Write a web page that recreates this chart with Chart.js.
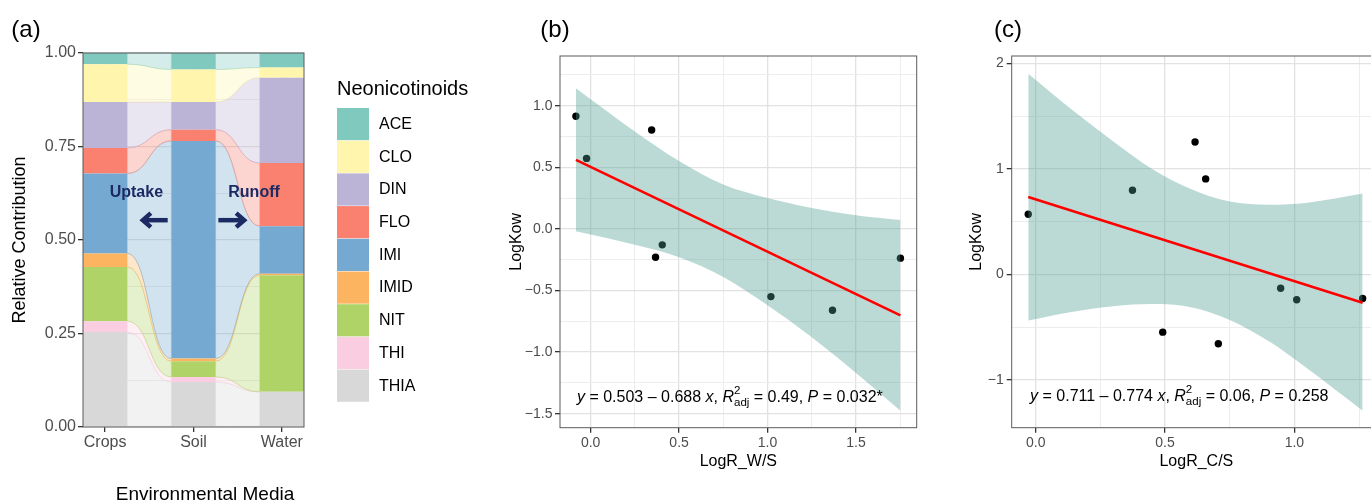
<!DOCTYPE html>
<html>
<head>
<meta charset="utf-8">
<title>Neonicotinoids</title>
<script src="https://cdn.jsdelivr.net/npm/chart.js@4.4.1/dist/chart.umd.min.js"></script>
<style>
  html, body { margin: 0; padding: 0; background: #fff; width: 1371px; height: 500px; overflow: hidden; }
  canvas { position: absolute; top: 0; }
</style>
</head>
<body>
<canvas id="shareChart" width="500" height="500" style="left:0"></canvas>
<canvas id="wsChart" width="450" height="500" style="left:500px"></canvas>
<canvas id="csChart" width="450" height="500" style="left:950px"></canvas>
<script>
const FONT = '"Liberation Sans", Arial, Helvetica, sans-serif';
Chart.defaults.font.family = FONT;
Chart.defaults.color = '#4D4D4D';

// (a) relative contribution per medium, listed top of stack first
const media = ['Crops', 'Soil', 'Water'];
const mediaPos = [1, 2, 3];
const compounds = ['ACE', 'CLO', 'DIN', 'FLO', 'IMI', 'IMID', 'NIT', 'THI', 'THIA'];
const compoundColors = ['#7FC9BE', '#FFF5AC', '#BCB4D6', '#FA8070', '#75A9D2', '#FDB461', '#B0D368', '#FBCDE1', '#D8D8D8'];
const cropsShare = [0.030, 0.101, 0.123, 0.068, 0.214, 0.036, 0.145, 0.029, 0.254];
const soilShare = [0.044, 0.087, 0.074, 0.030, 0.582, 0.007, 0.042, 0.014, 0.120];
const waterShare = [0.039, 0.027, 0.228, 0.169, 0.127, 0.004, 0.312, 0.000, 0.094];
const shareTicks = [0, 0.25, 0.5, 0.75, 1];
const shareMinor = [0.125, 0.375, 0.625, 0.875];

// (b) LogKow vs LogR_W/S
const wsX = [-0.083, -0.023, 0.345, 0.405, 0.367, 1.019, 1.367, 1.751];
const wsY = [0.914, 0.572, 0.802, -0.130, -0.230, -0.550, -0.661, -0.238];
const wsFitX = [-0.083, 1.751];
const wsFitY = [0.560, -0.702];
const wsBandX = [-0.083, 0.25, 0.5, 0.75, 1.0, 1.25, 1.5, 1.751];
const wsBandHi = [1.141, 0.79, 0.55, 0.36, 0.25, 0.17, 0.11, 0.071];
const wsBandLo = [-0.02, -0.13, -0.23, -0.39, -0.62, -0.88, -1.17, -1.476];
const wsTicksX = [0, 0.5, 1, 1.5];
const wsMinorX = [0.25, 0.75, 1.25, 1.75];
const wsTicksY = [-1.5, -1, -0.5, 0, 0.5, 1];
const wsMinorY = [-1.25, -0.75, -0.25, 0.25, 0.75, 1.25];

// (c) LogKow vs LogR_C/S
const csX = [-0.029, 0.374, 0.616, 0.657, 0.491, 0.706, 0.947, 1.009, 1.264];
const csY = [0.570, 0.797, 1.255, 0.905, -0.546, -0.656, -0.130, -0.240, -0.227];
const csFitX = [-0.029, 1.264];
const csFitY = [0.733, -0.267];
const csBandX = [-0.029, 0.15, 0.3, 0.45, 0.6, 0.75, 0.9, 1.05, 1.264];
const csBandHi = [1.90, 1.54, 1.26, 1.00, 0.81, 0.69, 0.66, 0.68, 0.766];
const csBandLo = [-0.435, -0.35, -0.30, -0.28, -0.31, -0.43, -0.63, -0.89, -1.29];
const csTicksX = [0, 0.5, 1];
const csMinorX = [0.25, 0.75, 1.25];
const csTicksY = [-1, 0, 1, 2];
const csMinorY = [-0.5, 0.5, 1.5];

const pts = (xs, ys) => xs.map((x, i) => ({ x, y: ys[i] }));
const minus = (s) => s.replace('-', '\u2212');

function fade(hex, a) {
  const n = parseInt(hex.slice(1), 16);
  return `rgba(${n >> 16}, ${(n >> 8) & 255}, ${n & 255}, ${a})`;
}

function gridAxis(major, minor, fmt, o) {
  const isMajor = (c) => c.tick && major.includes(c.tick.value);
  return {
    type: 'linear',
    min: o.min,
    max: o.max,
    offset: false,
    afterBuildTicks: (s) => {
      s.ticks = [...major, ...minor].sort((a, b) => a - b).map((value) => ({ value }));
    },
    afterFit: (s) => {
      if (o.width) s.width = o.width;
      if (o.height) s.height = o.height;
    },
    border: { display: false },
    grid: {
      offset: false,
      color: (c) => (isMajor(c) ? '#E2E2E2' : '#EDEDED'),
      lineWidth: (c) => (isMajor(c) ? 1.3 : 1),
      tickColor: (c) => (isMajor(c) ? '#333333' : 'rgba(0,0,0,0)'),
      tickLength: 5
    },
    ticks: {
      autoSkip: false,
      maxRotation: 0,
      padding: o.padding,
      color: '#4D4D4D',
      font: { size: o.fontSize || 14 },
      callback: (v) => (major.includes(v) ? fmt(v) : '')
    },
    title: o.title
      ? { display: true, text: o.title, color: '#000', font: { size: o.titleSize || 16 }, padding: o.titlePad }
      : { display: false }
  };
}

function drawRuns(ctx, x, y, runs, size) {
  let cx = x;
  let supW = 0;
  runs.forEach((r) => {
    const small = r.sup || r.sub;
    ctx.font = `${r.i ? 'italic ' : ''}${small ? size * 0.72 : size}px ${FONT}`;
    const dy = r.sup ? -size * 0.42 : r.sub ? size * 0.34 : 0;
    ctx.fillText(r.t, cx, y + dy);
    const w = ctx.measureText(r.t).width;
    if (r.sup) { supW = w; return; }
    cx += small ? Math.max(w, supW) : w;
    supW = 0;
  });
}

function arrow(ctx, from, to, yy) {
  const dir = Math.sign(to - from);
  ctx.lineWidth = 4.5;
  ctx.lineCap = 'butt';
  ctx.lineJoin = 'miter';
  ctx.beginPath();
  ctx.moveTo(from, yy);
  ctx.lineTo(to - dir * 2, yy);
  ctx.stroke();
  ctx.beginPath();
  ctx.moveTo(to - dir * 8, yy - 7);
  ctx.lineTo(to, yy);
  ctx.lineTo(to - dir * 8, yy + 7);
  ctx.stroke();
}

const panelFrame = {
  id: 'panelFrame',
  afterDatasetsDraw(chart) {
    const { ctx, chartArea: a } = chart;
    ctx.save();
    ctx.strokeStyle = '#5A5A5A';
    ctx.lineWidth = 1;
    ctx.strokeRect(a.left, a.top, a.right - a.left, a.bottom - a.top);
    ctx.restore();
  },
  afterDraw(chart, args, o) {
    const { ctx } = chart;
    ctx.save();
    ctx.fillStyle = '#000';
    ctx.font = `24px ${FONT}`;
    ctx.textAlign = 'center';
    ctx.textBaseline = 'middle';
    ctx.fillText(o.label, o.labelX, o.labelY);
    if (o.runs) {
      const { x, y } = chart.scales;
      ctx.textAlign = 'left';
      drawRuns(ctx, x.getPixelForValue(o.at[0]), y.getPixelForValue(o.at[1]), o.runs, 16);
    }
    ctx.restore();
  }
};

// ribbons between neighbouring bars, built from the bar elements' own pixels
const alluvialFlows = {
  id: 'alluvialFlows',
  beforeDatasetsDraw(chart) {
    const { ctx } = chart;
    ctx.save();
    chart.data.datasets.forEach((ds, i) => {
      const bars = chart.getDatasetMeta(i).data;
      for (let j = 0; j < bars.length - 1; j++) {
        const a = bars[j];
        const b = bars[j + 1];
        const x0 = a.x + a.width / 2;
        const x1 = b.x - b.width / 2;
        const xm = (x0 + x1) / 2;
        ctx.beginPath();
        ctx.moveTo(x0, a.y);
        ctx.bezierCurveTo(xm, a.y, xm, b.y, x1, b.y);
        ctx.lineTo(x1, b.base);
        ctx.bezierCurveTo(xm, b.base, xm, a.base, x0, a.base);
        ctx.closePath();
        ctx.fillStyle = fade(ds.backgroundColor, 0.33);
        ctx.fill();
        ctx.strokeStyle = fade(ds.backgroundColor, 0.55);
        ctx.lineWidth = 0.8;
        ctx.stroke();
      }
    });
    ctx.restore();
  }
};

const shareNotes = {
  id: 'shareNotes',
  afterDatasetsDraw(chart) {
    const { ctx, scales: { x, y } } = chart;
    ctx.save();
    ctx.fillStyle = '#1B2A63';
    ctx.strokeStyle = '#1B2A63';
    ctx.font = `bold 16px ${FONT}`;
    ctx.textAlign = 'center';
    ctx.textBaseline = 'middle';
    ctx.fillText('Uptake', x.getPixelForValue(1.354), y.getPixelForValue(0.626));
    ctx.fillText('Runoff', x.getPixelForValue(2.685), y.getPixelForValue(0.626));
    arrow(ctx, x.getPixelForValue(1.708), x.getPixelForValue(1.427), y.getPixelForValue(0.553));
    arrow(ctx, x.getPixelForValue(2.281), x.getPixelForValue(2.573), y.getPixelForValue(0.553));
    ctx.restore();
  },
  afterDraw(chart) {
    const { ctx } = chart;
    ctx.save();
    ctx.fillStyle = '#000';
    ctx.font = `19px ${FONT}`;
    ctx.textAlign = 'center';
    ctx.textBaseline = 'alphabetic';
    ctx.fillText('Environmental Media', 205, 500);
    // key
    ctx.textAlign = 'left';
    ctx.textBaseline = 'middle';
    ctx.font = `20px ${FONT}`;
    ctx.fillText('Neonicotinoids', 337, 89);
    ctx.font = `16px ${FONT}`;
    compounds.forEach((name, i) => {
      const top = 108 + i * 32.7;
      ctx.fillStyle = compoundColors[i];
      ctx.fillRect(337, top, 32, 32.2);
      ctx.fillStyle = '#000';
      ctx.fillText(name, 379, top + 16.5);
    });
    ctx.restore();
  }
};

function renderShareChart() {
  const shares = [cropsShare, soilShare, waterShare];
  const datasets = compounds.map((name, i) => ({
    label: name,
    data: mediaPos.map((x, j) => ({ x, y: shares[j][i] })),
    backgroundColor: compoundColors[i],
    borderWidth: 0,
    barPercentage: 0.5,
    categoryPercentage: 1
  })).reverse();

  return new Chart(document.getElementById('shareChart'), {
    type: 'bar',
    data: { datasets },
    options: {
      responsive: false,
      animation: false,
      events: [],
      layout: { padding: { left: 0, top: 53, right: 196, bottom: 33 } },
      scales: {
        x: {
          ...gridAxis(mediaPos, [], (v) => media[mediaPos.indexOf(v)], { min: 0.75, max: 3.25, height: 40, padding: 1, fontSize: 16 }),
          stacked: true
        },
        y: {
          ...gridAxis(shareTicks, shareMinor, (v) => v.toFixed(2), {
            min: 0, max: 1, width: 83, padding: 2, fontSize: 16,
            title: 'Relative Contribution', titleSize: 18, titlePad: { top: 9 }
          }),
          stacked: true
        }
      },
      plugins: {
        legend: { display: false },
        tooltip: { enabled: false },
        panelFrame: { label: '(a)', labelX: 26, labelY: 30 }
      }
    },
    plugins: [alluvialFlows, shareNotes, panelFrame]
  });
}

function renderRegressionChart(id, d) {
  return new Chart(document.getElementById(id), {
    type: 'scatter',
    data: {
      datasets: [
        { data: pts(d.x, d.y), backgroundColor: '#000', borderWidth: 0, pointRadius: 3.7, order: 3 },
        {
          data: pts(d.bandX, d.bandHi), showLine: true, fill: '+1',
          backgroundColor: 'rgba(80, 158, 145, 0.38)', borderColor: 'transparent', borderWidth: 0,
          pointRadius: 0, cubicInterpolationMode: 'monotone', order: 2
        },
        {
          data: pts(d.bandX, d.bandLo), showLine: true, fill: false,
          borderColor: 'transparent', borderWidth: 0,
          pointRadius: 0, cubicInterpolationMode: 'monotone', order: 2
        },
        { data: pts(d.fitX, d.fitY), showLine: true, borderColor: '#FF0000', borderWidth: 2.6, pointRadius: 0, order: 1 }
      ]
    },
    options: {
      responsive: false,
      animation: false,
      events: [],
      layout: { padding: d.padding },
      scales: {
        x: gridAxis(d.ticksX, d.minorX, (v) => minus(v.toFixed(1)), {
          min: d.xRange[0], max: d.xRange[1], height: 50, padding: 2, fontSize: 14,
          title: d.xTitle, titleSize: 16, titlePad: { bottom: 7 }
        }),
        y: gridAxis(d.ticksY, d.minorY, d.yFmt, {
          min: d.yRange[0], max: d.yRange[1], width: d.yWidth, padding: d.yPad, fontSize: 14,
          title: 'LogKow', titleSize: 16, titlePad: { top: d.yTitlePad }
        })
      },
      plugins: {
        legend: { display: false },
        tooltip: { enabled: false },
        panelFrame: { label: d.label, labelX: d.labelX, labelY: 30, runs: d.runs, at: d.at }
      }
    },
    plugins: [panelFrame]
  });
}

renderShareChart();

renderRegressionChart('wsChart', {
  x: wsX, y: wsY, fitX: wsFitX, fitY: wsFitY,
  bandX: wsBandX, bandHi: wsBandHi, bandLo: wsBandLo,
  ticksX: wsTicksX, minorX: wsMinorX, ticksY: wsTicksY, minorY: wsMinorY,
  xRange: [-0.173, 1.843], yRange: [-1.614, 1.403],
  yFmt: (v) => minus(v.toFixed(1)),
  xTitle: 'LogR_W/S',
  padding: { left: 0, top: 56, right: 33.3, bottom: 22.3 },
  yWidth: 60, yPad: 2.5, yTitlePad: 7,
  label: '(b)', labelX: 55,
  at: [-0.077, -1.366],
  runs: [
    { t: 'y', i: true }, { t: ' = 0.503 \u2013 0.688 ' }, { t: 'x', i: true }, { t: ', ' },
    { t: 'R', i: true }, { t: '2', sup: true }, { t: 'adj', sub: true }, { t: ' = 0.49, ' },
    { t: 'P', i: true }, { t: ' = 0.032*' }
  ]
});

renderRegressionChart('csChart', {
  x: csX, y: csY, fitX: csFitX, fitY: csFitY,
  bandX: csBandX, bandHi: csBandHi, bandLo: csBandLo,
  ticksX: csTicksX, minorX: csMinorX, ticksY: csTicksY, minorY: csMinorY,
  xRange: [-0.093, 1.335], yRange: [-1.451, 2.069],
  yFmt: (v) => minus(String(v)),
  xTitle: 'LogR_C/S',
  padding: { left: 0, top: 56, right: 19, bottom: 22.3 },
  yWidth: 61.7, yPad: 3, yTitlePad: 17.4,
  label: '(c)', labelX: 58,
  at: [-0.022, -1.158],
  runs: [
    { t: 'y', i: true }, { t: ' = 0.711 \u2013 0.774 ' }, { t: 'x', i: true }, { t: ', ' },
    { t: 'R', i: true }, { t: '2', sup: true }, { t: 'adj', sub: true }, { t: ' = 0.06, ' },
    { t: 'P', i: true }, { t: ' = 0.258' }
  ]
});
</script>
</body>
</html>
